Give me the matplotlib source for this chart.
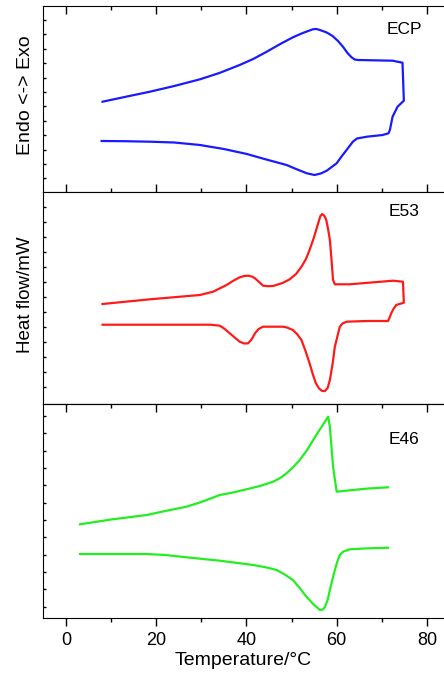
import numpy as np
import matplotlib

matplotlib.use("Agg")
from matplotlib import pyplot as plt
from matplotlib.ticker import FixedLocator, MultipleLocator

plt.rcParams["font.family"] = ["Liberation Sans", "DejaVu Sans"]

# ECP: heating branch, jump at the end, then cooling branch back to the start
ecp_t = [8.1, 13.0, 18.6, 24.0, 29.7, 34.0, 38.5, 41.5, 44.5, 47.5, 50.3, 52.5,
         54.7, 55.5, 56.3, 57.8, 59.1, 60.3, 61.4, 62.4, 63.3, 64.0, 64.7, 72.4,
         74.6, 74.9, 73.5, 72.4, 71.8, 71.5, 70.2, 66.7, 64.5, 63.6, 62.2, 61.0,
         60.0, 57.8, 56.5, 55.1, 53.4, 51.0, 48.9, 44.0, 40.1, 35.0, 29.7, 24.0,
         18.6, 13.0, 7.9]
ecp_q = [9.03, 9.5, 10.03, 10.6, 11.27, 11.9, 12.7, 13.3, 14.03, 14.8, 15.47,
         15.9, 16.27, 16.3, 16.2, 15.95, 15.6, 15.1, 14.53, 13.9, 13.47, 13.25,
         13.2, 13.13, 12.93, 9.13, 8.53, 7.53, 6.2, 5.87, 5.7, 5.53, 5.35, 5.03,
         4.2, 3.5, 2.87, 2.13, 1.85, 1.7, 1.87, 2.3, 2.7, 3.3, 3.8, 4.3, 4.7,
         4.95, 5.03, 5.08, 5.1]

e53_t = [8.1, 18.6, 29.7, 32.6, 35.6, 37.0, 38.5, 39.5, 40.4, 41.2, 41.9, 42.8,
         43.7, 44.8, 45.9, 48.0, 49.6, 51.0, 52.2, 53.2, 54.0, 55.0, 55.9, 56.4,
         56.8, 57.3, 57.7, 58.1, 58.5, 58.9, 59.2, 59.6, 62.9, 72.5, 74.7, 74.9,
         73.2, 72.6, 72.1, 71.7, 71.4, 66.6, 62.2, 61.3, 60.7, 59.6, 59.1, 58.5,
         58.0, 57.4, 56.8, 56.1, 55.4, 54.7, 54.0, 53.1, 52.2, 51.2, 50.3, 49.0,
         48.1, 43.7, 42.7, 41.9, 41.2, 40.4, 39.5, 38.5, 37.4, 36.3, 35.2, 34.1,
         32.0, 29.7, 8.1]
e53_q = [10.0, 10.47, 10.9, 11.23, 11.9, 12.3, 12.67, 12.8, 12.83, 12.75, 12.57,
         12.2, 11.83, 11.78, 11.8, 12.1, 12.47, 13.0, 13.73, 14.5, 15.4, 16.7,
         18.07, 18.8, 19.0, 18.8, 18.4, 17.5, 16.4, 14.2, 12.4, 11.97, 11.97,
         12.33, 12.23, 10.13, 9.9, 9.5, 9.07, 8.6, 8.3, 8.3, 8.23, 8.05, 7.73,
         5.73, 4.0, 2.4, 1.6, 1.3, 1.3, 1.55, 2.07, 3.0, 4.07, 5.3, 6.4, 7.0,
         7.4, 7.65, 7.73, 7.73, 7.5, 7.07, 6.5, 6.07, 6.05, 6.23, 6.65, 7.07,
         7.5, 7.83, 7.93, 7.93, 7.93]

e46_heat_t = [3.1, 10.0, 17.9, 22.0, 26.7, 30.0, 34.1, 37.0, 40.0, 43.0, 45.9,
              47.5, 48.9, 50.4, 51.8, 53.3, 54.8, 56.2, 57.4, 58.1, 58.5, 59.2,
              60.0, 63.6, 67.0, 71.4]
e46_heat_q = [9.37, 9.85, 10.3, 10.7, 11.13, 11.6, 12.3, 12.55, 12.87, 13.2,
              13.63, 14.0, 14.47, 15.1, 15.8, 16.7, 17.8, 18.8, 19.63, 20.13,
              19.13, 15.13, 12.63, 12.8, 12.95, 13.07]
e46_cool_t = [3.1, 17.9, 22.0, 26.7, 34.1, 41.5, 44.5, 46.7, 48.5, 50.3, 51.8,
              53.3, 54.8, 56.3, 57.0, 57.4, 58.0, 58.5, 59.1, 59.6, 60.2, 60.7,
              61.5, 62.9, 66.0, 71.4]
e46_cool_q = [6.4, 6.4, 6.3, 6.07, 5.73, 5.3, 5.05, 4.8, 4.35, 3.8, 3.0, 2.13,
              1.4, 0.8, 0.85, 1.13, 1.8, 2.8, 3.9, 4.8, 5.7, 6.3, 6.65, 6.87,
              6.95, 7.03]

samples = ["ECP", "E53", "E46"]
x_ticks = [0, 20, 40, 60, 80]

BLUE = "#1a1aff"
RED = "#ff1a1a"
GREEN = "#22ee22"

fig = plt.figure(figsize=(4.44, 6.77), dpi=100)
left, width = 43 / 444, 1 - 43 / 444
panels = [
    # (top px, bottom px, ylim top, first y tick, tick step)
    (6, 192, 18.6, 1.37, 1.44),
    (192, 404, 21.2, 1.73, 1.5),
    (404, 618, 21.4, 1.13, 1.734),
]

axes = []
for top, bottom, ytop, y0, ystep in panels:
    ax = fig.add_axes([left, 1 - bottom / 677, width, (bottom - top) / 677])
    ax.set_xlim(-5.1, 83.8)
    ax.set_ylim(0, ytop)
    ax.spines["right"].set_visible(False)
    ax.xaxis.set_major_locator(FixedLocator(x_ticks))
    ax.xaxis.set_minor_locator(MultipleLocator(10))
    ax.yaxis.set_major_locator(FixedLocator(np.arange(y0, ytop, ystep)))
    ax.tick_params(axis="x", which="both", direction="in", top=True, bottom=True,
                   labelbottom=False)
    ax.tick_params(axis="x", which="major", length=6, width=1)
    ax.tick_params(axis="x", which="minor", length=3, width=1)
    ax.tick_params(axis="y", which="major", direction="in", length=2.5, width=1,
                   labelleft=False, right=False)
    axes.append(ax)

ax_ecp, ax_e53, ax_e46 = axes
ax_e53.tick_params(axis="x", which="both", top=False, bottom=False)

ax_ecp.plot(ecp_t, ecp_q, color=BLUE, linewidth=1.6)
ax_e53.plot(e53_t, e53_q, color=RED, linewidth=1.6)
ax_e46.plot(e46_heat_t, e46_heat_q, color=GREEN, linewidth=1.6)
ax_e46.plot(e46_cool_t, e46_cool_q, color=GREEN, linewidth=1.6)

label_y = [30, 212, 440]
for name, py in zip(samples, label_y):
    fig.text(404 / 444, 1 - py / 677, name, ha="center", va="center", fontsize=12.5)

# bottom panel: ticks out at the bottom with labels, in at the top
ax_e46.tick_params(axis="x", which="both", direction="out", top=False, bottom=True,
                   labelbottom=True, labelsize=13, pad=4)
top_axis = ax_e46.secondary_xaxis("top")
top_axis.xaxis.set_major_locator(FixedLocator(x_ticks))
top_axis.xaxis.set_minor_locator(MultipleLocator(10))
top_axis.tick_params(axis="x", which="both", direction="in", labeltop=False)
top_axis.tick_params(axis="x", which="major", length=6, width=1)
top_axis.tick_params(axis="x", which="minor", length=3, width=1)
ax_e46.set_xlabel("Temperature/°C", fontsize=14, labelpad=2)

fig.text(25 / 444, 1 - 95 / 677, "Endo <-> Exo", rotation=90, ha="center",
         va="center", fontsize=14)
fig.text(25 / 444, 1 - 295 / 677, "Heat flow/mW", rotation=90, ha="center",
         va="center", fontsize=13.5)

fig.savefig("out.png", dpi=100)
